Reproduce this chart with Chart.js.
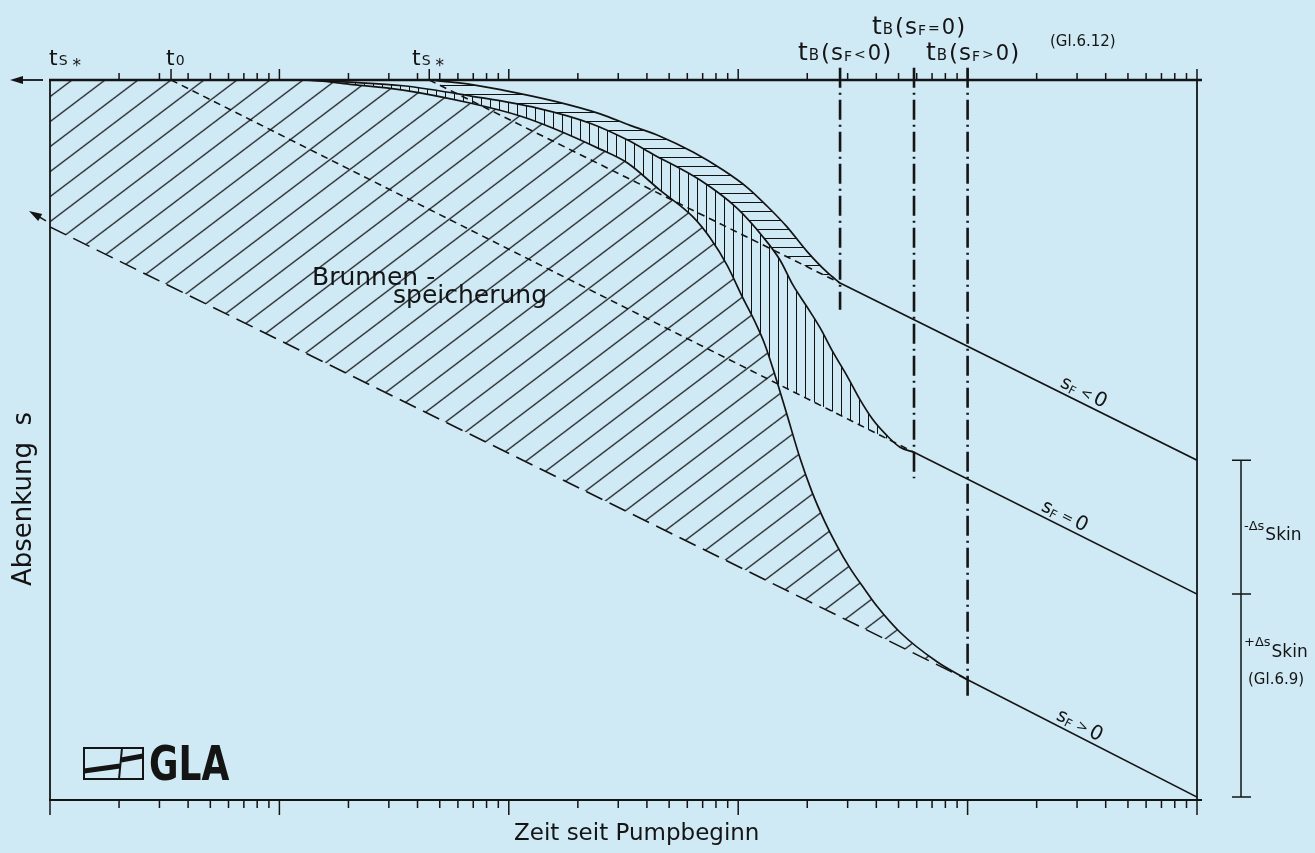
<!DOCTYPE html>
<html lang="de">
<head>
<meta charset="utf-8">
<title>Absenkung - Brunnenspeicherung</title>
<script src="https://cdn.jsdelivr.net/npm/chart.js@4.4.1/dist/chart.umd.min.js"></script>
<style>
  html, body { margin: 0; padding: 0; background: #cfe9f5; }
  canvas { display: block; }
</style>
</head>
<body>
<canvas id="chart" width="1315" height="853"></canvas>
<script>
// Typkurven mit Brunnenspeicherung (Zeit t logarithmisch, Absenkung s nach unten)
const tKurveNeg = [45, 68, 94, 156, 250, 338, 456, 635, 859, 1093, 1335, 1632, 1994, 2439, 2780];
const sKurveNeg = [0, 0.06, 0.14, 0.29, 0.47, 0.63, 0.78, 1.0, 1.25, 1.49, 1.75, 2.04, 2.38, 2.67, 2.82];

const tKurveNull = [12.7, 20.3, 34.6, 67.7, 133, 226, 328, 425, 682, 988, 1283, 1521, 1734, 1994, 2273, 2591, 2981, 3396, 3869, 4453, 5074, 5840];
const sKurveNull = [0, 0.03, 0.08, 0.22, 0.39, 0.6, 0.83, 1.03, 1.39, 1.78, 2.18, 2.5, 2.85, 3.15, 3.44, 3.78, 4.11, 4.44, 4.72, 4.94, 5.1, 5.17];

const tKurvePos = [1, 12.7, 20.3, 34.6, 67.7, 112, 156, 250, 328, 456, 635, 754, 894, 1049, 1184, 1309, 1447, 1632, 1859, 2097, 2390, 2697, 3072, 3570, 4029, 5074, 7357, 10000];
const sKurvePos = [0, 0, 0.06, 0.14, 0.32, 0.5, 0.67, 0.96, 1.15, 1.53, 1.9, 2.19, 2.57, 3.03, 3.36, 3.68, 4.1, 4.65, 5.25, 5.72, 6.14, 6.47, 6.78, 7.08, 7.31, 7.67, 8.08, 8.33];

// Geraden (semilog): Anfang, Beruehrpunkt t_B, rechter Rand
const tGeradeNeg = [45, 2780, 100000];
const sGeradeNeg = [0, 2.82, 5.28];
const tGeradeNull = [3.37, 5840, 100000];
const sGeradeNull = [0, 5.17, 7.14];
const tGeradePos = [1, 10000, 100000];
const sGeradePos = [2.04, 8.33, 9.96];

// t_B Markierungen (strichpunktiert) und ihr unteres Ende
const tB = [2780, 5840, 10000];
const sBEnde = [3.19, 5.53, 8.58];
const t0 = 3.37;
const tS = 45;

const BG = '#cfe9f5';
const INK = '#141414';
const FONT = '"DejaVu Sans", "Liberation Sans", sans-serif';

const canvas = document.getElementById('chart');
const ctx = canvas.getContext('2d');

function pts(ts, ss) {
    return ts.map((t, i) => ({x: t, y: ss[i]}));
}

// Schraffur als Muster (deckend, damit sich die Flaechen ueberlagern)
function muster(art) {
    const c = document.createElement('canvas');
    let w = 9, h = 9;
    if (art === 'schraeg') { w = 33; h = 25; }
    c.width = w; c.height = h;
    const g = c.getContext('2d');
    g.fillStyle = BG;
    g.fillRect(0, 0, w, h);
    g.strokeStyle = '#111';
    g.lineWidth = art === 'schraeg' ? 1.2 : 1;
    g.beginPath();
    if (art === 'schraeg') {
        for (let k = 0; k <= 2; k++) {
            g.moveTo((k + 1) * w, -h);
            g.lineTo((k - 2) * w, 2 * h);
        }
    } else if (art === 'senkrecht') {
        g.moveTo(4.5, 0); g.lineTo(4.5, h);
    } else {
        g.moveTo(0, 4.5); g.lineTo(w, 4.5);
    }
    g.stroke();
    const p = ctx.createPattern(c, 'repeat');
    if (art === 'schraeg') p.setTransform(new DOMMatrix().translate(45.6, 0));
    return p;
}

const kurve = {borderColor: INK, borderWidth: 1.7, cubicInterpolationMode: 'monotone', pointRadius: 0};
const gerade = {borderColor: INK, borderWidth: 1.6, pointRadius: 0, fill: false};
const strichpunkt = {borderColor: INK, borderWidth: 2.6, pointRadius: 0, fill: false, borderDash: [20, 5, 2, 5], clip: false};

const datasets = [
    // 0/1: s_F > 0  (schraeg schraffiert)
    Object.assign({data: pts(tKurvePos, sKurvePos), fill: '+1', backgroundColor: muster('schraeg')}, kurve),
    Object.assign({data: pts(tGeradePos.slice(0, 2), sGeradePos.slice(0, 2)), borderDash: [18, 8]}, gerade),
    // 2/3: s_F = 0  (senkrecht schraffiert)
    Object.assign({data: pts(tKurveNull, sKurveNull), fill: '+1', backgroundColor: muster('senkrecht')}, kurve),
    Object.assign({data: pts(tGeradeNull.slice(0, 2), sGeradeNull.slice(0, 2)), borderDash: [7, 5], borderWidth: 1.4}, gerade),
    // 4/5: s_F < 0  (waagerecht schraffiert)
    Object.assign({data: pts(tKurveNeg, sKurveNeg), fill: '+1', backgroundColor: muster('waagerecht')}, kurve),
    Object.assign({data: pts(tGeradeNeg.slice(0, 2), sGeradeNeg.slice(0, 2)), borderDash: [7, 5], borderWidth: 1.4}, gerade),
    // durchgezogene Geraden
    Object.assign({data: pts(tGeradeNeg.slice(1), sGeradeNeg.slice(1))}, gerade),
    Object.assign({data: pts(tGeradeNull.slice(1), sGeradeNull.slice(1))}, gerade),
    Object.assign({data: pts(tGeradePos.slice(1), sGeradePos.slice(1))}, gerade)
];
tB.forEach((t, i) => {
    datasets.push(Object.assign({data: [{x: t, y: -0.17}, {x: t, y: sBEnde[i]}]}, strichpunkt));
});

// Text aus Teilen mit unterschiedlicher Groesse (Indizes)
function reihe(c, x, y, teile) {
    let cx = x;
    for (const [txt, size, dy = 0, gap = 1] of teile) {
        c.font = size + 'px ' + FONT;
        c.fillText(txt, cx, y + dy);
        cx += c.measureText(txt).width + gap;
    }
}

function pfeil(c, x1, y1, x2, y2) {
    const a = Math.atan2(y2 - y1, x2 - x1);
    c.beginPath();
    c.moveTo(x1, y1);
    c.lineTo(x2 - Math.cos(a) * 8, y2 - Math.sin(a) * 8);
    c.stroke();
    c.beginPath();
    c.moveTo(x2, y2);
    c.lineTo(x2 - Math.cos(a) * 13 + Math.sin(a) * 4, y2 - Math.sin(a) * 13 - Math.cos(a) * 4);
    c.lineTo(x2 - Math.cos(a) * 13 - Math.sin(a) * 4, y2 - Math.sin(a) * 13 + Math.cos(a) * 4);
    c.closePath();
    c.fill();
}

const zeichnung = {
    id: 'zeichnung',
    afterDraw(chart) {
        const c = chart.ctx;
        const xs = chart.scales.x, ys = chart.scales.y;
        const {left, right, top, bottom} = chart.chartArea;
        c.save();
        c.strokeStyle = INK;
        c.fillStyle = INK;
        c.lineCap = 'butt';

        // Rahmen
        c.lineWidth = 2.6;
        c.beginPath(); c.moveTo(left - 1, top); c.lineTo(right + 5, top); c.stroke();
        c.lineWidth = 2.2;
        c.beginPath(); c.moveTo(left - 1, bottom); c.lineTo(right + 5, bottom); c.stroke();
        c.lineWidth = 1.8;
        c.beginPath(); c.moveTo(left, top); c.lineTo(left, bottom); c.stroke();
        c.beginPath(); c.moveTo(right, top); c.lineTo(right, bottom); c.stroke();

        // Teilung (log)
        c.lineWidth = 1.5;
        for (let k = 0; k <= 5; k++) {
            const d = Math.pow(10, k);
            const xd = xs.getPixelForValue(d);
            c.beginPath();
            if (k > 0) { c.moveTo(xd, top); c.lineTo(xd, top - 11); }
            c.moveTo(xd, bottom); c.lineTo(xd, bottom + 15);
            c.stroke();
            if (k === 5) break;
            for (let m = 2; m <= 9; m++) {
                const xm = xs.getPixelForValue(m * d);
                c.beginPath();
                c.moveTo(xm, top); c.lineTo(xm, top - 7);
                c.moveTo(xm, bottom); c.lineTo(xm, bottom + 8);
                c.stroke();
            }
        }
        [t0, tS].forEach(t => {
            const x = xs.getPixelForValue(t);
            c.beginPath(); c.moveTo(x, top); c.lineTo(x, top - 11); c.stroke();
        });

        // Pfeile links
        c.lineWidth = 1.8;
        pfeil(c, left - 7, top, left - 40, top);
        c.lineWidth = 1.5;
        pfeil(c, left - 4, ys.getPixelForValue(sGeradePos[0]) - 6, left - 21, ys.getPixelForValue(sGeradePos[0]) - 16);

        // Beschriftung oben
        c.textBaseline = 'alphabetic';
        reihe(c, 49, 65, [['t', 22, 0, 1], ['S', 14, 0, 5], ['*', 17, 6]]);
        reihe(c, 166, 65, [['t', 22, 0, 1], ['0', 14]]);
        reihe(c, 412, 65, [['t', 22, 0, 1], ['S', 14, 0, 5], ['*', 17, 6]]);
        const tbl = (x, y, z) => reihe(c, x, y, [['t', 25, 0, 1], ['B', 15, 0, 2], ['(', 23, 1, 1], ['s', 23, 0, 1], ['F', 14, 1, 2], [z, 14, -1, 2], ['0', 21, 0, 1], [')', 23, 1]]);
        tbl(798, 60, '<');
        tbl(872, 34, '=');
        tbl(926, 60, '>');
        c.font = '15px ' + FONT;
        c.fillText('(Gl.6.12)', 1050, 46);

        // Brunnenspeicherung
        c.font = '25px ' + FONT;
        c.fillText('Brunnen -', 312, 285);
        c.fillText('speicherung', 393, 303);

        // Achsentitel
        c.font = '23px ' + FONT;
        c.fillText('Zeit seit Pumpbeginn', 514, 840);
        c.save();
        c.translate(31, 499);
        c.rotate(-Math.PI / 2);
        c.font = '26px ' + FONT;
        c.textAlign = 'center';
        c.fillText('Absenkung  s', 0, 0);
        c.restore();

        // Beschriftung an den Geraden
        const anGerade = (tg, sg, x, z) => {
            const x1 = xs.getPixelForValue(tg[1]), y1 = ys.getPixelForValue(sg[1]);
            const x2 = xs.getPixelForValue(tg[2]), y2 = ys.getPixelForValue(sg[2]);
            const a = Math.atan2(y2 - y1, x2 - x1);
            const y = y1 + (y2 - y1) * (x - x1) / (x2 - x1);
            c.save();
            c.translate(x + Math.sin(a) * 5, y - Math.cos(a) * 5);
            c.rotate(a);
            reihe(c, 0, 0, [['s', 19, 0, 0], ['F', 12, 2, 5], [z, 14, -1, 3], ['0', 20]]);
            c.restore();
        };
        anGerade(tGeradeNeg, sGeradeNeg, 1057, '<');
        anGerade(tGeradeNull, sGeradeNull, 1038, '=');
        anGerade(tGeradePos, sGeradePos, 1053, '>');

        // Skin-Klammer rechts
        const yA = ys.getPixelForValue(sGeradeNeg[2]);
        const yB = ys.getPixelForValue(sGeradeNull[2]);
        const yC = ys.getPixelForValue(sGeradePos[2]);
        c.lineWidth = 1.5;
        c.beginPath();
        c.moveTo(1241, yA); c.lineTo(1241, yC);
        [yA, yB, yC].forEach(y => { c.moveTo(1232, y); c.lineTo(1251, y); });
        c.stroke();
        reihe(c, 1244, 530, [['-', 13, 0, 0], ['\u0394s', 13, 0, 1], ['Skin', 17, 10]]);
        reihe(c, 1244, 646, [['+', 13, 0, 0], ['\u0394s', 13, 0, 1], ['Skin', 17, 11]]);
        c.font = '15px ' + FONT;
        c.fillText('(Gl.6.9)', 1248, 684);

        // GLA Zeichen
        c.lineWidth = 2;
        c.strokeRect(84, 748, 59, 31);
        c.lineWidth = 5;
        c.beginPath(); c.moveTo(84, 771); c.lineTo(120, 766); c.stroke();
        c.beginPath(); c.moveTo(121, 760); c.lineTo(143, 756); c.stroke();
        c.lineWidth = 2;
        c.beginPath(); c.moveTo(122, 748); c.lineTo(119, 779); c.stroke();
        c.save();
        c.translate(149, 780);
        c.scale(0.75, 1);
        c.font = 'bold 48px ' + FONT;
        c.fillText('GLA', 0, 0);
        c.restore();

        c.restore();
    }
};

new Chart(ctx, {
    type: 'line',
    data: {datasets: datasets},
    options: {
        responsive: false,
        animation: false,
        devicePixelRatio: 1,
        layout: {padding: {left: 50, right: 118, top: 80, bottom: 53}},
        scales: {
            x: {type: 'logarithmic', min: 1, max: 100000, display: false},
            y: {type: 'linear', min: 0, max: 10, reverse: true, display: false}
        },
        elements: {point: {radius: 0}},
        plugins: {
            legend: {display: false},
            tooltip: {enabled: false},
            filler: {drawTime: 'beforeDatasetsDraw'}
        }
    },
    plugins: [zeichnung]
});
</script>
</body>
</html>
